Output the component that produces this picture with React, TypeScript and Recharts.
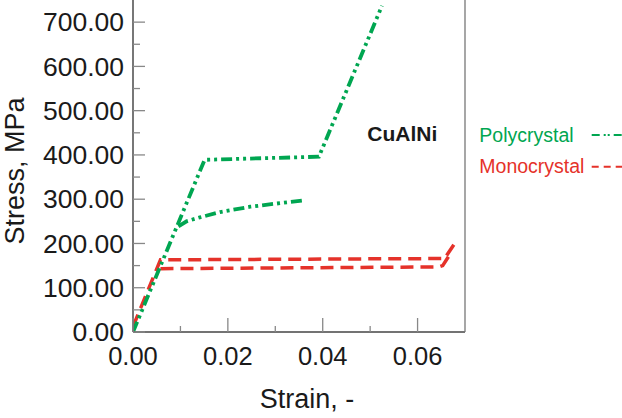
import React from 'react';
import { LineChart, Line, XAxis, YAxis, Customized } from 'recharts';

// Polycrystal (green, dash-dot-dot): loading path and lower (reverse) plateau
const polyLoadStrain = [0, 0.0151, 0.0392, 0.0525];
const polyLoadStress = [0, 389, 396, 737];
const polyUnloadStrain = [0.0356, 0.0247, 0.0184, 0.0141, 0.0113, 0.0092];
const polyUnloadStress = [297, 283, 271, 259, 250, 236];

// Monocrystal (red, dashed)
const monoLoadStrain = [0, 0.0058, 0.0657, 0.068];
const monoLoadStress = [12, 163, 166, 203];
const monoUnloadStrain = [0.0665, 0.0653, 0.0645, 0.005];
const monoUnloadStress = [170, 150, 147, 143];

const strainTicks = [0, 0.01, 0.02, 0.03, 0.04, 0.05, 0.06];
const stressTicks = [0, 50, 100, 150, 200, 250, 300, 350, 400, 450, 500, 550, 600, 650, 700];

const seriesNames = ['Polycrystal', 'Monocrystal'];
const materialLabel = 'CuAlNi';

const GREEN = '#00a651';
const RED = '#e5322a';
const FONT = '"Liberation Sans", Arial, Helvetica, sans-serif';
const TEXT = '#1a1a1a';

const zip = (xs: number[], ys: number[]) => xs.map((x, i) => ({ x, y: ys[i] }));

const polyLoad = zip(polyLoadStrain, polyLoadStress);
const polyUnload = zip(polyUnloadStrain, polyUnloadStress);
const monoLoad = zip(monoLoadStrain, monoLoadStress);
const monoUnload = zip(monoUnloadStrain, monoUnloadStress);

const isMajorX = (v: number) => Math.round(v * 100) % 2 === 0;
const isMajorY = (v: number) => Math.round(v) % 100 === 0;

const BottomTick = (props: any) => {
  const { x, y, payload } = props;
  const v = payload.value as number;
  const major = isMajorX(v);
  return (
    <g>
      <line x1={x} x2={x} y1={y} y2={y - (major ? 14 : 6)} stroke="#888" strokeWidth={1.3} />
      {major && (
        <text x={x} y={y + 32.6} textAnchor="middle" fontSize={25.5} fill={TEXT} fontFamily={FONT}>
          {v.toFixed(2)}
        </text>
      )}
    </g>
  );
};

const TopTick = (props: any) => {
  const { x, y, payload } = props;
  const major = isMajorX(payload.value);
  return <line x1={x} x2={x} y1={y} y2={y + (major ? 12 : 6)} stroke="#888" strokeWidth={1.3} />;
};

const LeftTick = (props: any) => {
  const { x, y, payload } = props;
  const v = payload.value as number;
  const major = isMajorY(v);
  return (
    <g>
      <line x1={x} x2={x + (major ? 12 : 7)} y1={y} y2={y} stroke="#888" strokeWidth={1.3} />
      {major && (
        <text x={x - 9} y={y + 26 * 0.355} textAnchor="end" fontSize={26.5} fill={TEXT} fontFamily={FONT}>
          {v.toFixed(2)}
        </text>
      )}
    </g>
  );
};

const RightTick = (props: any) => {
  const { x, y, payload } = props;
  const major = isMajorY(payload.value);
  return <line x1={x} x2={x - (major ? 13 : 7)} y1={y} y2={y} stroke="#888" strokeWidth={1.3} />;
};

const XTitle = (props: any) => {
  const vb = props.viewBox;
  const cx = vb.x + vb.width / 2 + 8;
  return (
    <text x={cx} y={407.5} textAnchor="middle" fontSize={27} fill={TEXT} fontFamily={FONT}>
      Strain, -
    </text>
  );
};

const YTitle = (props: any) => {
  const vb = props.viewBox;
  const cy = vb.y + vb.height / 2 + 5;
  const bx = 24;
  return (
    <text
      x={bx}
      y={cy}
      transform={`rotate(-90 ${bx} ${cy})`}
      textAnchor="middle"
      fontSize={27}
      fill={TEXT}
      fontFamily={FONT}
    >
      Stress, MPa
    </text>
  );
};

const LegendAndLabel = () => (
  <g>
    <text x={367.3} y={141} fontSize={21} fontWeight="bold" fill={TEXT} fontFamily={FONT}>
      {materialLabel}
    </text>
    <text x={479.3} y={141.7} fontSize={19.5} fill={GREEN} fontFamily={FONT}>
      {seriesNames[0]}
    </text>
    <line x1={591.7} x2={622} y1={135} y2={135} stroke={GREEN} strokeWidth={2} strokeDasharray="8 4 2 2 2 4" />
    <text x={479.3} y={172.7} fontSize={19.5} fill={RED} fontFamily={FONT}>
      {seriesNames[1]}
    </text>
    <line x1={591.7} x2={622} y1={166.7} y2={166.7} stroke={RED} strokeWidth={2} strokeDasharray="7 5" />
  </g>
);

export default function App() {
  return (
    <div style={{ position: 'absolute', left: 0, top: 0, width: 622, height: 418, background: '#fff' }}>
      <LineChart width={622} height={418} margin={{ top: 0, right: 0, bottom: 0, left: 0 }}>
        <XAxis
          dataKey="x"
          type="number"
          domain={[0, 0.07]}
          ticks={strainTicks}
          interval={0}
          height={86}
          tickSize={0}
          tickMargin={0}
          tick={<BottomTick />}
          axisLine={{ stroke: '#444', strokeWidth: 1.6 }}
          allowDataOverflow
          label={<XTitle />}
        />
        <XAxis
          xAxisId="top"
          orientation="top"
          dataKey="x"
          type="number"
          domain={[0, 0.07]}
          ticks={strainTicks}
          interval={0}
          height={0}
          tickSize={0}
          tickMargin={0}
          tick={<TopTick />}
          axisLine={false}
        />
        <YAxis
          dataKey="y"
          type="number"
          domain={[0, 750]}
          ticks={stressTicks}
          interval={0}
          width={133}
          tickSize={0}
          tickMargin={0}
          tick={<LeftTick />}
          axisLine={{ stroke: '#555', strokeWidth: 1.6 }}
          allowDataOverflow
          label={<YTitle />}
        />
        <YAxis
          yAxisId="right"
          orientation="right"
          dataKey="y"
          type="number"
          domain={[0, 750]}
          ticks={stressTicks}
          interval={0}
          width={157}
          tickSize={0}
          tickMargin={0}
          tick={<RightTick />}
          axisLine={{ stroke: '#777', strokeWidth: 1.3 }}
        />
        <Line
          data={monoLoad}
          dataKey="y"
          name={seriesNames[1]}
          stroke={RED}
          strokeWidth={3.5}
          strokeDasharray="13 7"
          dot={false}
          activeDot={false}
          isAnimationActive={false}
        />
        <Line
          data={monoUnload}
          dataKey="y"
          name={seriesNames[1] + ' reverse'}
          stroke={RED}
          strokeWidth={3.5}
          strokeDasharray="13 7"
          dot={false}
          activeDot={false}
          isAnimationActive={false}
        />
        <Line
          data={polyLoad}
          dataKey="y"
          name={seriesNames[0]}
          stroke={GREEN}
          strokeWidth={3.8}
          strokeDasharray="11 4 3 4 3 4"
          dot={false}
          activeDot={false}
          isAnimationActive={false}
        />
        <Line
          data={polyUnload}
          dataKey="y"
          name={seriesNames[0] + ' reverse'}
          stroke={GREEN}
          strokeWidth={3.8}
          strokeDasharray="11 4 3 4 3 4"
          dot={false}
          activeDot={false}
          isAnimationActive={false}
        />
        <Customized component={<LegendAndLabel />} />
      </LineChart>
    </div>
  );
}
